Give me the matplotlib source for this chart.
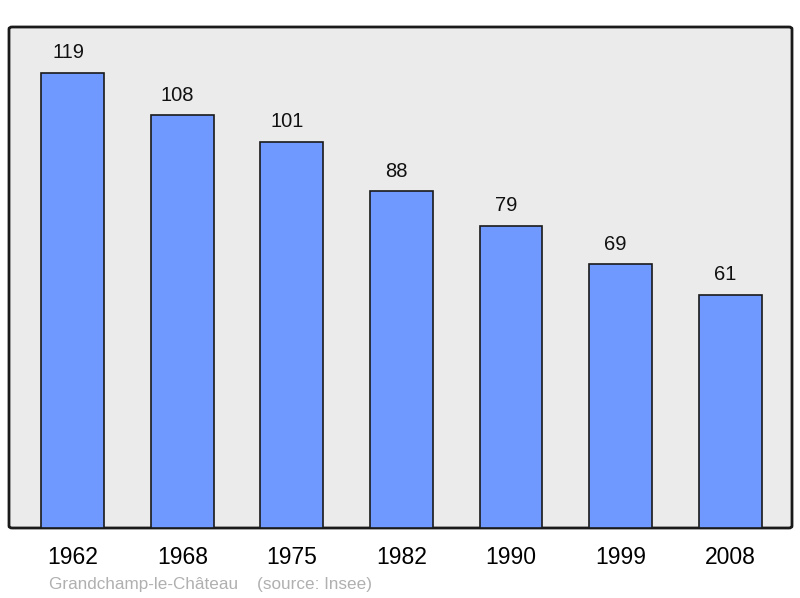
import matplotlib.pyplot as plt
from matplotlib.patches import FancyBboxPatch

plt.rcParams['font.family'] = ['Liberation Sans', 'DejaVu Sans']

years = ['1962', '1968', '1975', '1982', '1990', '1999', '2008']
population = [119, 108, 101, 88, 79, 69, 61]

fig = plt.figure(figsize=(8, 5.98), dpi=100)
ax = fig.add_axes([9 / 800, 70 / 598, 783 / 800, 501 / 598])
ax.set_facecolor('none')

# rounded background frame
bg = FancyBboxPatch((0, 0), 1, 1, boxstyle='round,pad=0,rounding_size=0.004',
                    transform=ax.transAxes, facecolor='#ebebeb',
                    edgecolor='#1a1a1a', linewidth=2, zorder=0, clip_on=False)
ax.add_patch(bg)

x = range(len(years))
ax.bar(x, population, width=0.575, color='#7099ff', edgecolor='#1a1a1a',
       linewidth=1.2, zorder=2)
for i, v in zip(x, population):
    ax.annotate(str(v), (i, v), xytext=(-3.5, 7.5), textcoords='offset points',
                ha='center', va='bottom', fontsize=14.5, color='#111111')

ax.set_xlim(-0.584, 6.566)
ax.set_ylim(0, 131)
ax.set_yticks([])
ax.set_xticks(list(x))
ax.set_xticklabels(years, fontsize=16.5)
ax.tick_params(axis='x', length=0, pad=13)
for s in ax.spines.values():
    s.set_visible(False)

fig.text(49 / 800, 1 - 584 / 598, 'Grandchamp-le-Château    (source: Insee)',
         fontsize=12.3, color='#b0b0b0', va='center', ha='left')

fig.savefig('out.png', dpi=100)
